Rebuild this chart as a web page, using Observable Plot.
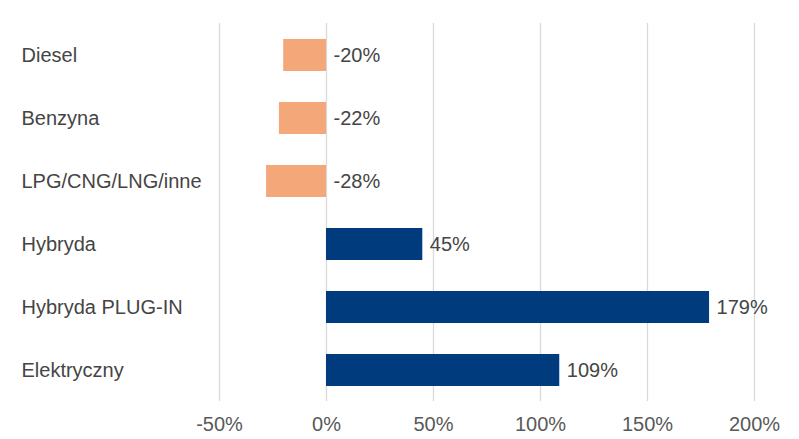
<!DOCTYPE html>
<html><head><meta charset="utf-8">
<script src="https://cdn.jsdelivr.net/npm/d3@7"></script>
<script src="https://cdn.jsdelivr.net/npm/@observablehq/plot@0.6"></script>
<style>body{margin:0;background:#fff;font-family:"Liberation Sans",Arial,sans-serif}</style>
</head><body><div id="chart"></div>
<script>
const categories = ["Diesel","Benzyna","LPG/CNG/LNG/inne","Hybryda","Hybryda PLUG-IN","Elektryczny"];
const values = [-20,-22,-28,45,179,109];
const ticks = [-50,0,50,100,150,200];
const colorNeg = "#F4A87A";
const colorPos = "#003B7E";
const data = categories.map((c,i)=>({c, v: values[i]}));
const chart = Plot.plot({
  width: 799, height: 439,
  marginLeft: 219, marginRight: 45, marginTop: 23, marginBottom: 38,
  style: {fontFamily: '"Liberation Sans", Arial, sans-serif', fontSize: "20px", color: "#595959", background: "#fff"},
  x: {domain: [-50, 200], ticks: ticks, tickFormat: d => d + "%", label: null, axis: null},
  y: {domain: categories, paddingInner: 0.5, paddingOuter: 0.25, axis: null},
  marks: [
    Plot.gridX(ticks, {stroke: "#d9d9d9", strokeOpacity: 1, strokeWidth: 1.3}),
    Plot.barX(data, {x: "v", y: "c", fill: d => d.v < 0 ? colorNeg : colorPos}),
    Plot.text(data, {x: d => Math.max(d.v, 0), y: "c", text: d => d.v + "%", textAnchor: "start", dx: 7, fill: "#454545", fontSize: 20}),
    Plot.text(data, {y: "c", text: "c", frameAnchor: "left", textAnchor: "start", dx: -198, fill: "#454545", fontSize: 20}),
    Plot.axisX(ticks, {tickSize: 0, tickPadding: 15, tickFormat: d => d + "%", fill: "#595959", fontSize: 20, label: null})
  ]
});
document.getElementById("chart").appendChild(chart);
</script></body></html>
